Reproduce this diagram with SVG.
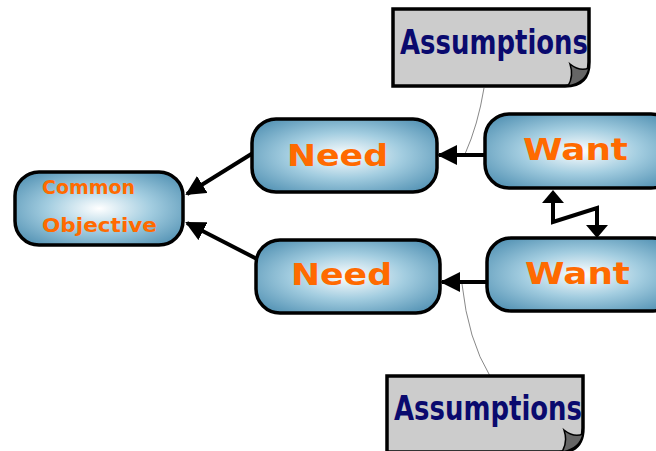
<svg xmlns="http://www.w3.org/2000/svg" width="656" height="451" viewBox="0 0 656 451">
<defs>
<radialGradient id="g" cx="50%" cy="50%" r="62%">
<stop offset="0" stop-color="#ffffff"/>
<stop offset="0.5" stop-color="#a3cde0"/>
<stop offset="1" stop-color="#5795b6"/>
</radialGradient>
<marker id="ah" viewBox="0 0 10 10" refX="9" refY="5" markerWidth="5" markerHeight="5" orient="auto-start-reverse" markerUnits="strokeWidth">
<path d="M0,0 L10,5 L0,10 z" fill="#000"/>
</marker>
<style>
.box{fill:url(#g);stroke:#000;stroke-width:3.5}
.lbl{font-family:"Comic Sans MS","DejaVu Sans",sans-serif;font-weight:bold;fill:#ff6a00}
.note{fill:#cccccc;stroke:#000;stroke-width:3.5}
.nt{font-family:"Comic Sans MS","DejaVu Sans",sans-serif;font-weight:bold;fill:#0a0a6e;font-size:34px}
.con{stroke:#000;stroke-width:4;fill:none;marker-end:url(#ah)}
.thin{stroke:#888;stroke-width:1;fill:none}
</style>
</defs>
<g id="connectors">
<path class="thin" d="M484,88 Q478,125 465,154"/>
<path class="thin" d="M462,284 Q468,340 490,376"/>
<line class="con" x1="253" y1="153" x2="187" y2="194"/>
<line class="con" x1="257" y1="259" x2="187" y2="223"/>
<line class="con" x1="486" y1="155" x2="439" y2="155"/>
<line class="con" x1="488" y1="282" x2="442" y2="282"/>
<polyline points="553,200 553,222 597,208 597,226" stroke="#000" stroke-width="4" fill="none"/>
<path d="M542,203 L553,190 L564,203 z" fill="#000"/>
<path d="M586,225 L597,238 L608,225 z" fill="#000"/>
</g>
<g id="common">
<rect class="box" x="15" y="172" width="168" height="73" rx="24"/>
<text class="lbl" x="42" y="194" font-size="20" textLength="93" lengthAdjust="spacingAndGlyphs">Common</text>
<text class="lbl" x="42" y="232" font-size="20" textLength="115" lengthAdjust="spacingAndGlyphs">Objective</text>
</g>
<g id="need1">
<rect class="box" x="252" y="119" width="185" height="73" rx="24"/>
<text class="lbl" x="287" y="166" font-size="31" textLength="101" lengthAdjust="spacingAndGlyphs">Need</text>
</g>
<g id="need2">
<rect class="box" x="256" y="240" width="184" height="73" rx="24"/>
<text class="lbl" x="291" y="285" font-size="31" textLength="101" lengthAdjust="spacingAndGlyphs">Need</text>
</g>
<g id="want1">
<rect class="box" x="485" y="114" width="190" height="74" rx="24"/>
<text class="lbl" x="523" y="160" font-size="31" textLength="105" lengthAdjust="spacingAndGlyphs">Want</text>
</g>
<g id="want2">
<rect class="box" x="487" y="238" width="190" height="73" rx="24"/>
<text class="lbl" x="525" y="284" font-size="31" textLength="105" lengthAdjust="spacingAndGlyphs">Want</text>
</g>
<g id="assump1">
<path class="note" d="M393,9 H589 V62 Q589,86 565,86 H393 Z"/>
<path d="M568,86 Q574,76 570,64 Q580,72 589,68 Q586,83 568,86 Z" fill="#666" stroke="#000" stroke-width="1.5"/>
<text class="nt" x="400" y="54" textLength="188" lengthAdjust="spacingAndGlyphs">Assumptions</text>
</g>
<g id="assump2">
<path class="note" d="M387,376 H583 V428 Q583,452 559,452 H387 Z"/>
<path d="M562,452 Q568,442 564,430 Q574,438 583,434 Q580,449 562,452 Z" fill="#666" stroke="#000" stroke-width="1.5"/>
<text class="nt" x="394" y="420" textLength="188" lengthAdjust="spacingAndGlyphs">Assumptions</text>
</g>
</svg>
